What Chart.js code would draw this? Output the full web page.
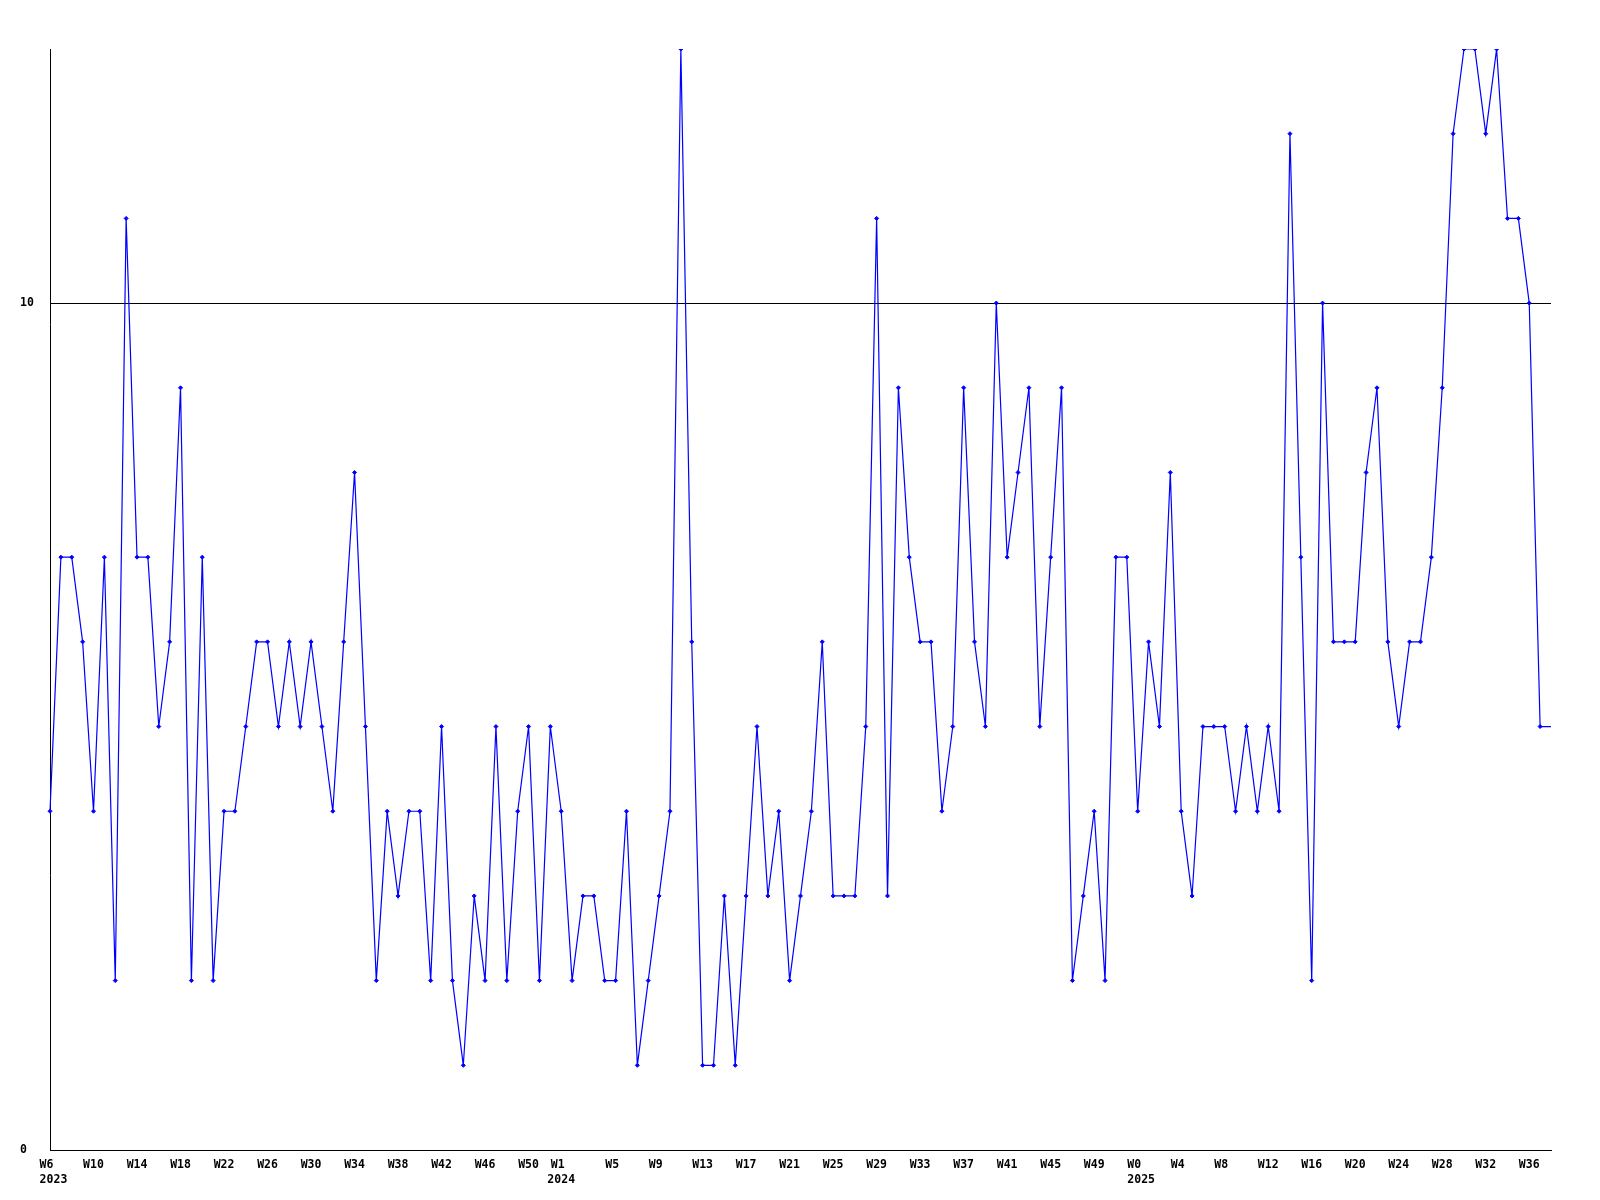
<!DOCTYPE html>
<html lang="en">
<head>
  <meta charset="UTF-8">
  <title>Weekly count</title>
  <script src="https://cdn.jsdelivr.net/npm/chart.js"></script>
  <style>
    * {
      margin: 0;
      padding: 0;
      box-sizing: border-box;
    }

    body {
      background: #fff;
      width: 1600px;
      height: 1200px;
      overflow: hidden;
    }
  </style>
</head>
<body>
  <canvas id="weekChart" width="1600" height="1200"></canvas>

  <script>
    // one value per week, 2023 W6 .. 2025 W37, last entry = current (unfinished) week
    const counts2023 = [
      4, 7, 7, 6, 4, 7, 2, 11, 7, 7, 5, 6, 9, 2, 7, 2, 4, 4, 5, 6, 6, 5, 6, 5,
      6, 5, 4, 6, 8, 5, 2, 4, 3, 4, 4, 2, 5, 2, 1, 3, 2, 5, 2, 4, 5, 2, 5
    ];
    const counts2024 = [
      4, 2, 3, 3, 2, 2, 4, 1, 2, 3, 4, 13, 6, 1, 1, 3, 1, 3, 5, 3, 4, 2, 3, 4,
      6, 3, 3, 3, 5, 11, 3, 9, 7, 6, 6, 4, 5, 9, 6, 5, 10, 7, 8, 9, 5, 7, 9, 2,
      3, 4, 2, 7, 7
    ];
    const counts2025 = [
      4, 6, 5, 8, 4, 3, 5, 5, 5, 4, 5, 4, 5, 4, 12, 7, 2, 10, 6, 6, 6, 8, 9, 6,
      5, 6, 6, 7, 9, 12, 13, 13, 12, 13, 11, 11, 10, 5, 5
    ];

    // labelled weeks on the x axis (point index, week, year line)
    const tickIndex = [0, 4, 8, 12, 16, 20, 24, 28, 32, 36, 40, 44,
                       47, 52, 56, 60, 64, 68, 72, 76, 80, 84, 88, 92, 96,
                       100, 104, 108, 112, 116, 120, 124, 128, 132, 136];
    const tickWeek = ['W6', 'W10', 'W14', 'W18', 'W22', 'W26', 'W30', 'W34', 'W38', 'W42', 'W46', 'W50',
                      'W1', 'W5', 'W9', 'W13', 'W17', 'W21', 'W25', 'W29', 'W33', 'W37', 'W41', 'W45', 'W49',
                      'W0', 'W4', 'W8', 'W12', 'W16', 'W20', 'W24', 'W28', 'W32', 'W36'];
    const tickYear = { 0: ' 2023', 47: '2024', 100: ' 2025' };
    const yTicks = [0, 10];

    const values = counts2023.concat(counts2024, counts2025);

    const categories = values.map(() => '');
    tickIndex.forEach((idx, i) => {
      let w = tickWeek[i];
      if (w.length < 3) w = w + ' ';
      categories[idx] = tickYear[idx] ? [w, tickYear[idx]] : w;
    });

    const pointSizes = values.map((v, i) => i === values.length - 1 ? 0 : 2);

    const labelFont = {
      family: "'DejaVu Sans Mono', monospace",
      size: 11.5,
      weight: 'bold',
      lineHeight: 1.28
    };

    const ctx = document.getElementById('weekChart').getContext('2d');

    new Chart(ctx, {
      type: 'line',
      data: {
        labels: categories,
        datasets: [{
          data: values,
          borderColor: '#0000ff',
          borderWidth: 1.2,
          backgroundColor: '#0000ff',
          pointStyle: 'rectRot',
          pointRadius: pointSizes,
          pointBorderWidth: 1,
          pointBorderColor: '#0000ff',
          pointBackgroundColor: '#0000ff',
          tension: 0,
          fill: false
        }]
      },
      options: {
        responsive: false,
        animation: false,
        events: [],
        layout: {
          padding: { left: 20, top: 49, right: 49, bottom: 0 }
        },
        plugins: {
          legend: { display: false },
          tooltip: { enabled: false }
        },
        scales: {
          x: {
            type: 'category',
            offset: false,
            grid: { display: false },
            border: { display: true, color: '#000', width: 1 },
            ticks: {
              autoSkip: false,
              maxRotation: 0,
              minRotation: 0,
              padding: 0,
              color: '#000',
              font: labelFont
            },
            afterFit: (scale) => { scale.height = 50; }
          },
          y: {
            min: 0,
            max: 13,
            afterBuildTicks: (scale) => {
              scale.ticks = yTicks.map(v => ({ value: v }));
            },
            afterFit: (scale) => { scale.width = 30; },
            grid: {
              color: '#000',
              lineWidth: 1,
              drawTicks: false
            },
            border: { display: true, color: '#000', width: 1 },
            ticks: {
              crossAlign: 'far',
              padding: 0,
              color: '#000',
              font: labelFont
            }
          }
        }
      }
    });
  </script>
</body>
</html>
